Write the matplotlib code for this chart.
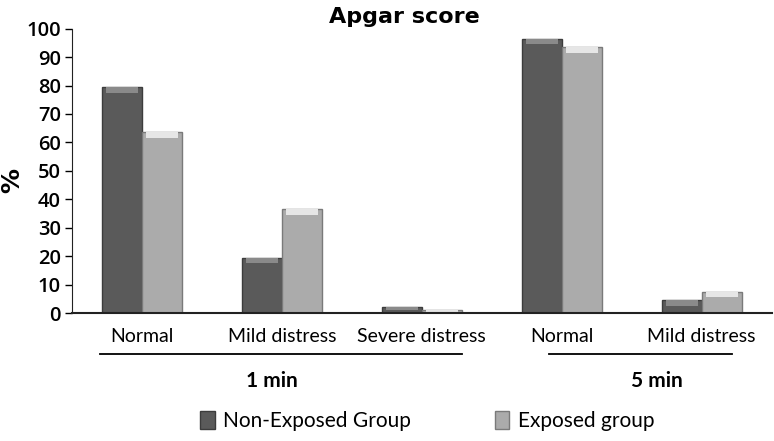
import matplotlib
matplotlib.use('Agg')
import matplotlib.pyplot as plt
import numpy as np
from matplotlib.patches import Patch

categories = ['Normal', 'Mild distress', 'Severe distress', 'Normal', 'Mild distress']
non_exposed = [79.5, 19.5, 2.2, 96.5, 4.6]
exposed = [63.5, 36.5, 1.0, 93.5, 7.5]
groups = ['1 min', '5 min']
series_names = ['Non-Exposed Group', 'Exposed group']

dark = '#5a5a5a'
light = '#ababab'
narrow = ['Lato', 'DejaVu Sans']

fig = plt.figure(figsize=(7.74, 4.41), dpi=100)
ax = fig.add_axes([0.093, 0.290, 0.904, 0.645])

x = np.arange(len(categories))
w = 0.285
b1 = ax.bar(x - w / 2, non_exposed, w, color=dark, edgecolor='#3c3c3c', linewidth=1.0)
b2 = ax.bar(x + w / 2, exposed, w, color=light, edgecolor='#7a7a7a', linewidth=1.0)

# bevel highlight on top of each bar
for bars, hl in ((b1, '#8a8a8a'), (b2, '#e6e6e6')):
    for r in bars:
        h = r.get_height()
        cap = min(2.0, h * 0.5)
        ax.bar(r.get_x() + r.get_width() / 2, cap, r.get_width() * 0.8,
               bottom=h - cap, color=hl, linewidth=0)

ax.set_xlim(-0.5, len(categories) - 0.5)
ax.set_ylim(0, 100)
ax.set_yticks(range(0, 101, 10))
ax.set_xticks(x)
ax.set_xticklabels(categories, family=narrow, fontsize=14)
ax.tick_params(axis='x', length=0, pad=11)
ax.tick_params(axis='y', length=5, width=1, direction='out', labelsize=14.5, pad=3)
for lab in ax.get_yticklabels():
    lab.set_family(['Open Sans', 'DejaVu Sans'])
    lab.set_fontweight('semibold')
ax.spines['top'].set_visible(False)
ax.spines['right'].set_visible(False)
ax.spines['left'].set_color('#222222')
ax.spines['bottom'].set_color('#222222')
ax.spines['bottom'].set_linewidth(1.5)

fig.text(0.016, 0.59, '%', rotation=90, ha='center', va='center', fontsize=18, fontweight='bold')

trans = ax.get_xaxis_transform()
# group underlines and labels
ax.plot([-0.3, 2.29], [-0.144, -0.144], color='black', lw=1.3, transform=trans, clip_on=False)
ax.plot([2.91, 4.22], [-0.144, -0.144], color='black', lw=1.3, transform=trans, clip_on=False)
ax.text(0.93, -0.24, groups[0], transform=trans, ha='center', va='center',
        family=narrow, fontsize=15, fontweight='bold')
ax.text(3.68, -0.24, groups[1], transform=trans, ha='center', va='center',
        family=narrow, fontsize=15, fontweight='bold')

fig.text(0.523, 0.962, 'Apgar score', ha='center', va='center', fontsize=16, fontweight='bold')

handles = [Patch(facecolor=dark, edgecolor='#3c3c3c'), Patch(facecolor=light, edgecolor='#7a7a7a')]
leg = fig.legend(handles, series_names, loc='center', bbox_to_anchor=(0.552, 0.045), ncol=2,
                 frameon=False, prop={'family': narrow, 'size': 15}, handlelength=0.7,
                 handleheight=0.9, handletextpad=0.4, columnspacing=4.0)

fig.savefig('out.png', dpi=100)
